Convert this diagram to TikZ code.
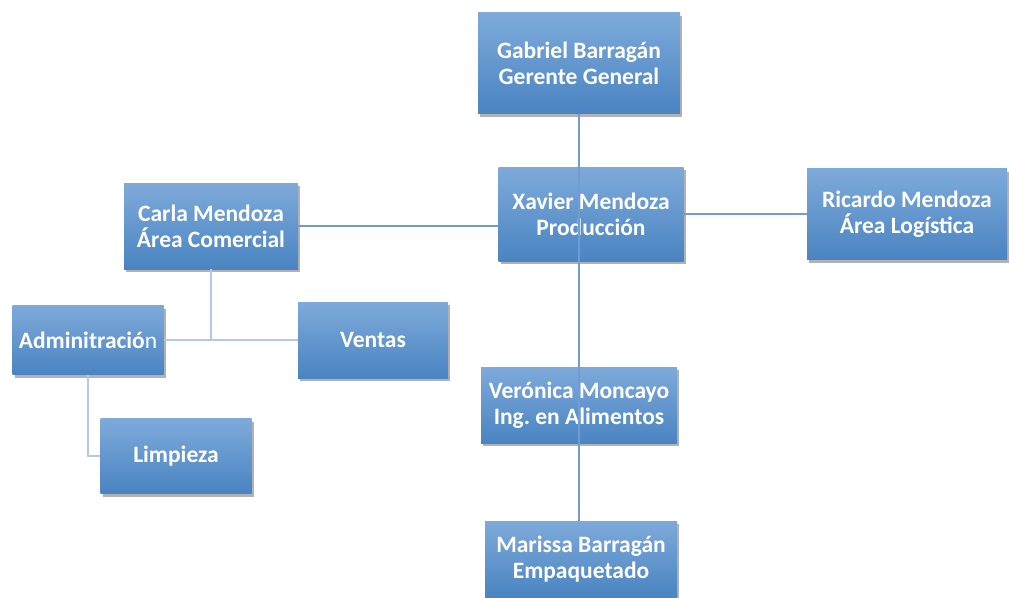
\documentclass[tikz,border=0pt]{standalone}
\usepackage{fontspec}
\setmainfont{Carlito}
\usetikzlibrary{shadows}

\definecolor{boxtop}{RGB}{126,170,218}
\definecolor{boxbottom}{RGB}{74,132,194}
\definecolor{linkblue}{RGB}{112,156,210}
\definecolor{linkpale}{RGB}{178,202,232}

\tikzset{
  box/.style={draw=none, top color=boxtop, bottom color=boxbottom,
    text=white, font=\fontsize{23.5}{26}\selectfont\bfseries, align=center,
    inner sep=0pt,
    drop shadow={shadow xshift=2pt, shadow yshift=-3pt, fill=black, opacity=.3}},
  link/.style={linkblue, line width=2.5pt},
  palelink/.style={linkpale, line width=2.5pt}
}

\begin{document}
\begin{tikzpicture}[x=1pt, y=-1pt]
% Fix the page size to the reference
\useasboundingbox (0,0) rectangle (1009,597);

% Boxes of the chart
\node[box, minimum width=202pt, minimum height=101pt] (gerente) at (579, 63) {Gabriel Barragán\\Gerente General};
\node[box, minimum width=185pt, minimum height=94pt] (produccion) at (591, 214) {Xavier Mendoza\\Producción};
\node[box, minimum width=200pt, minimum height=91pt] (logistica) at (907, 214) {Ricardo Mendoza\\Área Logística};
\node[box, minimum width=174pt, minimum height=86pt] (comercial) at (211, 226) {Carla Mendoza\\Área Comercial};
\node[box, minimum width=151pt, minimum height=69pt] (admin) at (88, 340) {Adminitració\mdseries n};
\node[box, minimum width=150pt, minimum height=76pt] (ventas) at (373, 340) {Ventas};
\node[box, minimum width=151pt, minimum height=75pt] (limpieza) at (176, 456) {Limpieza};
\node[box, minimum width=196pt, minimum height=76pt] (alimentos) at (579, 405) {Verónica Moncayo\\Ing.\ en Alimentos};
\node[box, minimum width=192pt, minimum height=76pt] (empaque) at (581, 559) {Marissa Barragán\\Empaquetado};

% Connectors
\draw[link] (gerente.south) -- (gerente.south |- empaque.north);
\draw[link] (comercial.east) -- (comercial.east -| produccion.west);
\draw[link] (produccion.east) -- (logistica.west);
\draw[palelink] (comercial.south) -- (comercial.south |- ventas.west);
\draw[palelink] (admin.east) -- (ventas.west);
\draw[palelink] (admin.south) |- (limpieza.west);
\end{tikzpicture}
\end{document}
